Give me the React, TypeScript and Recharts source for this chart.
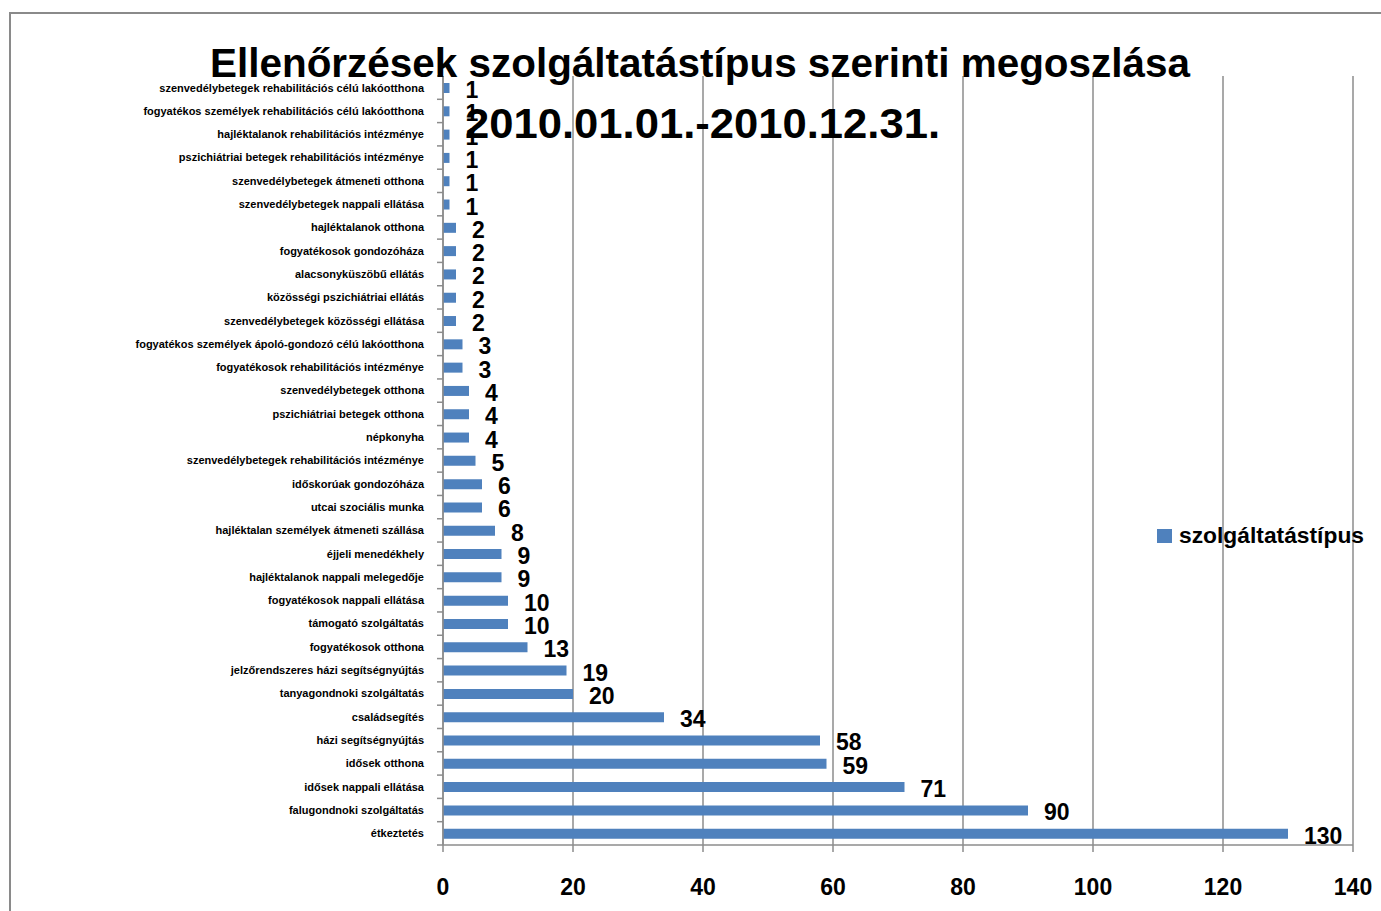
import { BarChart, Bar, XAxis, YAxis, CartesianGrid, LabelList } from 'recharts'

const categories = [
  'szenvedélybetegek rehabilitációs célú lakóotthona',
  'fogyatékos személyek rehabilitációs célú lakóotthona',
  'hajléktalanok rehabilitációs intézménye',
  'pszichiátriai betegek rehabilitációs intézménye',
  'szenvedélybetegek átmeneti otthona',
  'szenvedélybetegek nappali ellátása',
  'hajléktalanok otthona',
  'fogyatékosok gondozóháza',
  'alacsonyküszöbű ellátás',
  'közösségi pszichiátriai ellátás',
  'szenvedélybetegek közösségi ellátása',
  'fogyatékos személyek ápoló-gondozó célú lakóotthona',
  'fogyatékosok rehabilitációs intézménye',
  'szenvedélybetegek otthona',
  'pszichiátriai betegek otthona',
  'népkonyha',
  'szenvedélybetegek rehabilitációs intézménye',
  'időskorúak gondozóháza',
  'utcai szociális munka',
  'hajléktalan személyek átmeneti szállása',
  'éjjeli menedékhely',
  'hajléktalanok nappali melegedője',
  'fogyatékosok nappali ellátása',
  'támogató szolgáltatás',
  'fogyatékosok otthona',
  'jelzőrendszeres házi segítségnyújtás',
  'tanyagondnoki szolgáltatás',
  'családsegítés',
  'házi segítségnyújtás',
  'idősek otthona',
  'idősek nappali ellátása',
  'falugondnoki szolgáltatás',
  'étkeztetés',
]

const counts = [
  1, 1, 1, 1, 1, 1, 2, 2, 2, 2, 2, 3, 3, 4, 4, 4, 5, 6, 6, 8, 9, 9, 10, 10, 13, 19, 20, 34, 58,
  59, 71, 90, 130,
]

const xTicks = [0, 20, 40, 60, 80, 100, 120, 140]

const titleLines = ['Ellenőrzések szolgáltatástípus szerinti megoszlása', '2010.01.01.-2010.12.31.']
const seriesName = 'szolgáltatástípus'

const data = categories.map((name, i) => ({ name, value: counts[i] }))

const W = 1381
const H = 911
const TOP = 76
const BOTTOM = 845
const BAND = (BOTTOM - TOP) / categories.length
const FONT = '"Liberation Sans", Arial, sans-serif'
const GRID = '#8c8c8c'
const BLUE = '#4F81BD'

const CategoryTick = (props: any) => {
  const { x, y, payload, index } = props
  const axisX = x + 19
  return (
    <g>
      <line x1={axisX - 6} x2={axisX} y1={y - BAND / 2} y2={y - BAND / 2} stroke={GRID} strokeWidth={1.5} />
      {index === categories.length - 1 && (
        <line x1={axisX - 6} x2={axisX} y1={y + BAND / 2} y2={y + BAND / 2} stroke={GRID} strokeWidth={1.5} />
      )}
      <text x={x} y={y} dy="0.35em" textAnchor="end" fontFamily={FONT} fontWeight="bold" fontSize={11} fill="#000">
        {payload.value}
      </text>
    </g>
  )
}

const ValueLabel = (props: any) => {
  const { x, y, width, height, value } = props
  return (
    <text
      x={x + width + 16}
      y={y + height / 2 + 2}
      dominantBaseline="central"
      fontFamily={FONT}
      fontWeight="bold"
      fontSize={23}
      fill="#000"
    >
      {value}
    </text>
  )
}

export default function App() {
  return (
    <div style={{ position: 'absolute', left: 0, top: 0, width: W, height: H, overflow: 'hidden', background: '#fff' }}>
      <div
        style={{
          position: 'absolute',
          left: 9,
          top: 12,
          width: W + 40,
          height: H + 40,
          border: '2px solid #8a8a8a',
        }}
      />
      <div style={{ position: 'absolute', left: 0, top: 0 }}>
        <BarChart
          width={W}
          height={H}
          data={data}
          layout="vertical"
          barSize={10}
          margin={{ top: TOP, right: 28, bottom: 6, left: 0 }}
        >
          <CartesianGrid horizontal={false} stroke={GRID} strokeWidth={1.5} />
          <XAxis
            type="number"
            domain={[0, 140]}
            ticks={xTicks}
            interval={0}
            height={H - BOTTOM - 6}
            axisLine={{ stroke: GRID, strokeWidth: 1.5 }}
            tickLine={{ stroke: GRID, strokeWidth: 1.5 }}
            tickSize={7}
            tickMargin={27}
            tick={{ fontFamily: FONT, fontWeight: 'bold', fontSize: 23, fill: '#000' }}
          />
          <YAxis
            type="category"
            dataKey="name"
            width={443}
            interval={0}
            tickLine={false}
            tickSize={0}
            tickMargin={19}
            axisLine={{ stroke: GRID, strokeWidth: 1.5 }}
            tick={<CategoryTick />}
          />
          <Bar dataKey="value" name={seriesName} fill={BLUE} isAnimationActive={false}>
            <LabelList dataKey="value" content={<ValueLabel />} />
          </Bar>
        </BarChart>
      </div>
      <svg width={W} height={H} style={{ position: 'absolute', left: 0, top: 0, pointerEvents: 'none' }}>
        <rect x={1157} y={529} width={15} height={14} fill={BLUE} />
        <text x={1179} y={543} fontFamily={FONT} fontWeight="bold" fontSize={22} textLength={185} lengthAdjust="spacingAndGlyphs" fill="#000">
          {seriesName}
        </text>
        <text x={210} y={77} fontFamily={FONT} fontWeight="bold" fontSize={41} textLength={980} lengthAdjust="spacingAndGlyphs" fill="#000">
          {titleLines[0]}
        </text>
        <text x={465} y={138} fontFamily={FONT} fontWeight="bold" fontSize={42} textLength={475} lengthAdjust="spacingAndGlyphs" fill="#000">
          {titleLines[1]}
        </text>
      </svg>
    </div>
  )
}
